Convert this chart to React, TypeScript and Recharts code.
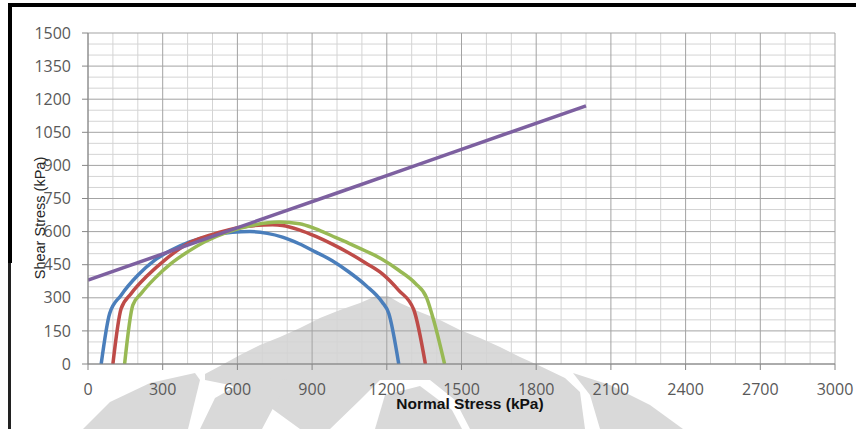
import { LineChart, Line, XAxis, YAxis, CartesianGrid } from "recharts";

// axis ticks (major grid) and minor grid positions, in kPa
const X_TICKS = [0, 300, 600, 900, 1200, 1500, 1800, 2100, 2400, 2700, 3000];
const Y_TICKS = [0, 150, 300, 450, 600, 750, 900, 1050, 1200, 1350, 1500];
const X_MINOR = [100, 200, 400, 500, 700, 800, 1000, 1100, 1300, 1400, 1600, 1700, 1900, 2000, 2200, 2300, 2500, 2600, 2800, 2900];
const Y_MINOR = [50, 100, 200, 250, 350, 400, 500, 550, 650, 700, 800, 850, 950, 1000, 1100, 1150, 1250, 1300, 1400, 1450];

// Mohr circles: normal stress (x) vs shear stress (y), kPa
const CIRCLE_1 = [
  { x: 53, y: 0 }, { x: 87, y: 229 }, { x: 133, y: 312 }, { x: 200, y: 402 },
  { x: 267, y: 470 }, { x: 333, y: 515 }, { x: 408, y: 553 }, { x: 501, y: 583 },
  { x: 580, y: 597 }, { x: 650, y: 600 }, { x: 720, y: 592 }, { x: 781, y: 575 },
  { x: 848, y: 545 }, { x: 915, y: 507 }, { x: 981, y: 468 }, { x: 1048, y: 417 },
  { x: 1115, y: 357 }, { x: 1181, y: 281 }, { x: 1208, y: 229 }, { x: 1248, y: 0 },
];
const CIRCLE_2 = [
  { x: 100, y: 0 }, { x: 133, y: 251 }, { x: 173, y: 319 }, { x: 240, y: 402 },
  { x: 307, y: 470 }, { x: 400, y: 545 }, { x: 533, y: 598 }, { x: 640, y: 624 },
  { x: 741, y: 631 }, { x: 781, y: 628 }, { x: 848, y: 608 }, { x: 915, y: 578 },
  { x: 981, y: 543 }, { x: 1048, y: 503 }, { x: 1115, y: 458 }, { x: 1181, y: 410 },
  { x: 1248, y: 334 }, { x: 1308, y: 247 }, { x: 1355, y: 0 },
];
const CIRCLE_3 = [
  { x: 147, y: 0 }, { x: 180, y: 267 }, { x: 213, y: 319 }, { x: 267, y: 387 },
  { x: 333, y: 455 }, { x: 400, y: 508 }, { x: 467, y: 553 }, { x: 560, y: 598 },
  { x: 667, y: 630 }, { x: 768, y: 643 }, { x: 850, y: 636 }, { x: 915, y: 612 },
  { x: 981, y: 580 }, { x: 1048, y: 547 }, { x: 1115, y: 512 }, { x: 1181, y: 475 },
  { x: 1248, y: 425 }, { x: 1315, y: 365 }, { x: 1360, y: 300 }, { x: 1388, y: 199 },
  { x: 1432, y: 0 },
];
// failure envelope
const ENVELOPE = [
  { x: 0, y: 380 }, { x: 500, y: 578 }, { x: 1000, y: 775 }, { x: 1500, y: 973 }, { x: 2000, y: 1170 },
];

const SERIES = [
  { name: "circle1", data: CIRCLE_1, color: "#4A7EBB" },
  { name: "circle2", data: CIRCLE_2, color: "#BE4B48" },
  { name: "circle3", data: CIRCLE_3, color: "#98B954" },
  { name: "envelope", data: ENVELOPE, color: "#7D60A0" },
];

const W = 856;
const H = 429;
const TICK_FONT = { fontFamily: "'Open Sans', sans-serif", fontSize: 16, fill: "#595959" };

// faint logo shapes sitting behind the plot
function Watermark() {
  const grey = "#d9d9d9";
  return (
    <svg width={W} height={H} style={{ position: "absolute", left: 0, top: 0 }}>
      <polygon
        fill={grey}
        points="205,374 220,366 240,355 260,345 280,337 300,328 320,318 340,310 360,303 376,296 388,296 400,303 420,312 440,320 460,330 480,338 500,347 520,357 540,366 565,378 580,392 585,429 470,429 455,400 430,380 380,380 360,400 330,429 300,429 260,400 230,385 205,380"
      />
      <polygon fill={grey} points="83,429 110,402 150,383 195,373 200,380 188,429" />
      <polygon fill={grey} points="200,429 215,398 250,378 300,380 280,395 262,429" />
      <polygon fill={grey} points="375,429 385,395 420,386 452,410 462,429" />
      <polygon fill={grey} points="573,373 610,385 650,405 683,429 600,429 590,395" />
    </svg>
  );
}

export default function App() {
  return (
    <div style={{ position: "absolute", left: 0, top: 0, width: W, height: H, background: "#fff" }}>
      <Watermark />
      <div style={{ position: "absolute", left: 0, top: 0 }}>
        <LineChart width={W} height={H} margin={{ top: 33, right: 21, bottom: 0, left: 0 }}>
          <CartesianGrid stroke="#d4d4d4" verticalValues={X_MINOR} horizontalValues={Y_MINOR} />
          <CartesianGrid stroke="#a3a3a3" verticalValues={X_TICKS} horizontalValues={Y_TICKS} />
          <XAxis
            dataKey="x"
            type="number"
            domain={[0, 3000]}
            ticks={X_TICKS}
            interval={0}
            height={65}
            tickSize={6}
            tickMargin={14}
            stroke="#868686"
            tick={TICK_FONT}
            allowDataOverflow
          />
          <YAxis
            type="number"
            domain={[0, 1500]}
            ticks={Y_TICKS}
            interval={0}
            width={88}
            tickSize={6}
            tickMargin={11}
            stroke="#868686"
            tick={TICK_FONT}
            allowDataOverflow
          />
          {SERIES.map((s) => (
            <Line
              key={s.name}
              data={s.data}
              dataKey="y"
              name={s.name}
              type="monotoneX"
              stroke={s.color}
              strokeWidth={3.5}
              dot={false}
              activeDot={false}
              isAnimationActive={false}
            />
          ))}
        </LineChart>
      </div>
      <svg width={W} height={H} style={{ position: "absolute", left: 0, top: 0, pointerEvents: "none" }}>
        <rect x={8} y={3} width={W - 8} height={4} fill="#000" />
        <rect x={8} y={3} width={4} height={260} fill="#000" />
        <rect x={8} y={263} width={3} height={H - 263} fill="#222" />
        <text
          x={470}
          y={409}
          textAnchor="middle"
          fontFamily="'Liberation Sans', Arial, sans-serif"
          fontWeight="bold"
          fontSize={15.5}
          fill="#111"
        >
          Normal Stress (kPa)
        </text>
        <text
          x={0}
          y={0}
          transform="translate(45 218) rotate(-90)"
          textAnchor="middle"
          fontFamily="'Liberation Sans', Arial, sans-serif"
          fontSize={14.5}
          fill="#262626"
        >
          Shear Stress (kPa)
        </text>
      </svg>
    </div>
  );
}
